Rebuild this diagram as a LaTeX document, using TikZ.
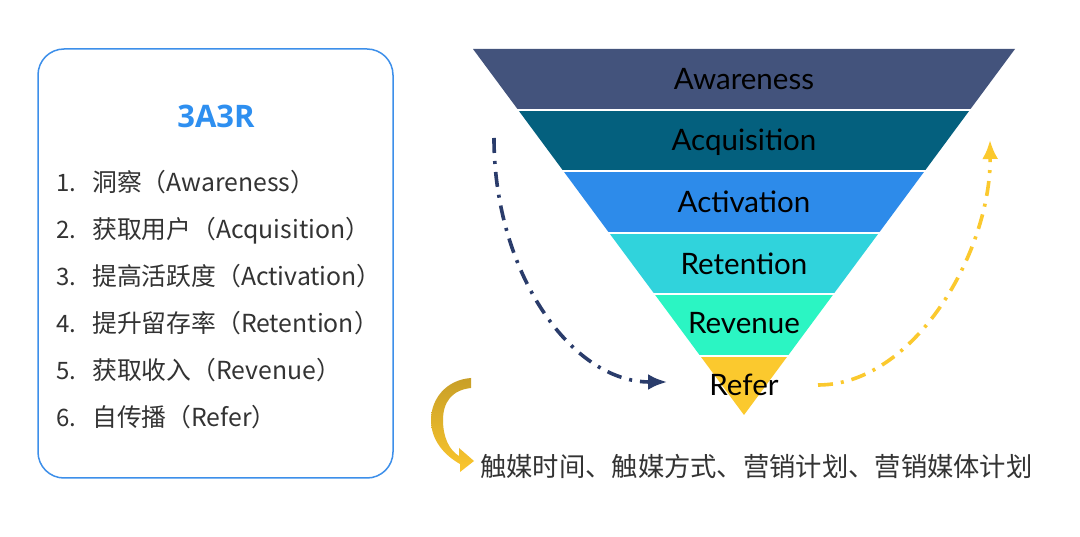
\documentclass[tikz,border=0pt]{standalone}
\usepackage{fontspec}
\usetikzlibrary{arrows.meta}
\newfontfamily\cjk{Noto Sans CJK SC}
\newfontfamily\funnelfont{Lato}
\newfontfamily\titlefont{Open Sans}
\definecolor{awareC}{HTML}{43537C}
\definecolor{acqC}{HTML}{04607E}
\definecolor{actC}{HTML}{2D8BEA}
\definecolor{retC}{HTML}{30D3DC}
\definecolor{revC}{HTML}{2BF5C3}
\definecolor{refC}{HTML}{FBC92E}
\definecolor{boxblue}{HTML}{3D8FEA}
\definecolor{titleblue}{HTML}{2E8FF0}
\definecolor{textgray}{HTML}{333333}
\definecolor{navyC}{HTML}{2A3C6B}
\definecolor{goldTop}{HTML}{C89F28}
\definecolor{goldBot}{HTML}{FBC62D}
\begin{document}
\begin{tikzpicture}[x=1pt,y=-1pt,
  panel/.style={draw=boxblue,line width=1.5pt,rounded corners=26pt,minimum width=355pt,minimum height=429pt,inner sep=0},
  num/.style={anchor=base west,inner sep=0,text=textgray,font=\cjk\fontsize{24}{28}\selectfont},
  item/.style={anchor=base west,inner sep=0,text=textgray,font=\cjk\fontsize{24.8}{28}\selectfont},
  ftext/.style={anchor=base,inner sep=0,text=black,font=\funnelfont\fontsize{29.5}{34}\selectfont},
  sep/.style={white,line width=2pt},
  flow/.style={line width=3.6pt,dash pattern=on 15pt off 8pt on 3pt off 8pt,-{Latex[length=19pt,width=16pt]}}
]
\useasboundingbox (0,0) rectangle (1080,537);
\fill[white] (0,0) rectangle (1080,537);

% left panel
\node[panel] (panel) at (215.5,263.5) {};
\node[anchor=base,inner sep=0,text=titleblue,font=\titlefont\bfseries\fontsize{31}{36}\selectfont] (title) at (216,127.5) {3A3R};
\node[num] (n1) at (56,192) {1.};
\node[item] (t1) at (92,192) {洞察（Awareness）};
\node[num] (n2) at (56,239) {2.};
\node[item] (t2) at (92,239) {获取用户（Acquisition）};
\node[num] (n3) at (56,286) {3.};
\node[item] (t3) at (92,286) {提高活跃度（Activation）};
\node[num] (n4) at (56,333) {4.};
\node[item] (t4) at (92,333) {提升留存率（Retention）};
\node[num] (n5) at (56,380) {5.};
\node[item] (t5) at (92,380) {获取收入（Revenue）};
\node[num] (n6) at (56,427) {6.};
\node[item] (t6) at (92,427) {自传播（Refer）};

% funnel
\fill[awareC] (473,49) -- (1015,49) -- (969.8,110) -- (518.2,110) -- cycle;
\fill[acqC] (518.2,110) -- (969.8,110) -- (924.3,171.5) -- (563.7,171.5) -- cycle;
\fill[actC] (563.7,171.5) -- (924.3,171.5) -- (878.8,233) -- (609.2,233) -- cycle;
\fill[retC] (609.2,233) -- (878.8,233) -- (833.2,294.5) -- (654.8,294.5) -- cycle;
\fill[revC] (654.8,294.5) -- (833.2,294.5) -- (787.7,356) -- (700.3,356) -- cycle;
\fill[refC] (700.3,356) -- (787.7,356) -- (744,415) -- cycle;
\draw[sep] (516,110) -- (972,110);
\draw[sep] (561,171.5) -- (927,171.5);
\draw[sep] (607,233) -- (881,233);
\draw[sep] (652,294.5) -- (836,294.5);
\draw[sep] (698,356) -- (790,356);

\node[ftext] (aw) at (744,90) {Awareness};
\node[ftext] (acq) at (744,151) {Acquisition};
\node[ftext] (act) at (744,213) {Activation};
\node[ftext] (ret) at (744,275) {Retention};
\node[ftext] (rev) at (744,334) {Revenue};
\node[ftext] (ref) at (744,396) {Refer};

% dash-dot flows
\coordinate (navyStart) at (494,138);
\coordinate (navyEnd) at (667,382);
\draw[flow,navyC] (navyStart) .. controls (494,272) and (571,382) .. (navyEnd);
\coordinate (yelStart) at (818,385);
\coordinate (yelEnd) at (990,140);
\draw[flow,refC] (yelStart) .. controls (914,385) and (991,252) .. (yelEnd);

% golden curved arrow
\shade[top color=goldTop,bottom color=goldBot]
  (471,378) .. controls (445,380) and (431,400) .. (431,420)
  .. controls (431,440) and (444,455) .. (460,464)
  -- (460,472) -- (474,461) -- (459,448) -- (459,456)
  .. controls (449,450) and (443,437) .. (443,420)
  .. controls (443,402) and (452,390) .. (471,388) -- cycle;

\node[anchor=base west,inner sep=0,text=textgray,font=\cjk\fontsize{26.3}{30}\selectfont] (media) at (480,476) {触媒时间、触媒方式、营销计划、营销媒体计划};
\end{tikzpicture}
\end{document}
